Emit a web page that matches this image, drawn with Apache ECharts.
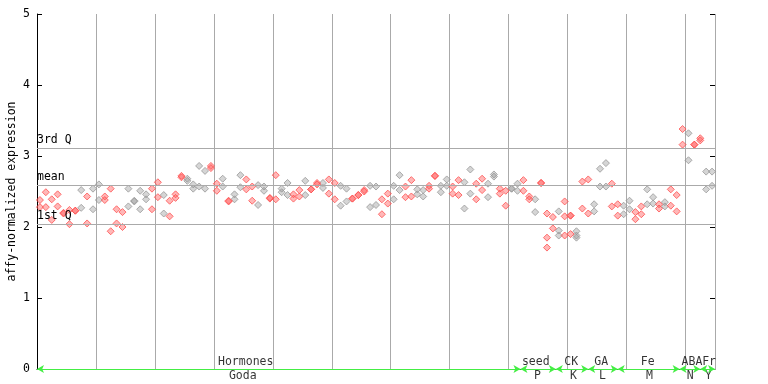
<!DOCTYPE html>
<html><head><meta charset="utf-8">
<script src="https://cdn.jsdelivr.net/npm/echarts@6/dist/echarts.min.js"></script>
<style>html,body{margin:0;padding:0;background:#fff}#c{width:768px;height:384px}</style>
</head><body><div id="c"></div>
<script>
// replicate values per sample column
var rep1 = [2.38,2.49,2.39,2.46,2.19,2.24,2.23,2.52,2.43,2.54, 2.60,2.43,2.54,2.25,2.21,2.54,2.37,2.51,2.46,2.54,
 2.63,2.45,2.37,2.46,2.72,2.68,2.60,2.86,2.79,2.86, 2.61,2.68,2.37,2.46,2.73,2.67,2.57,2.59,2.57,2.40,
 2.73,2.54,2.62,2.46,2.52,2.65,2.53,2.62,2.62,2.67, 2.62,2.58,2.54,2.40,2.45,2.52,2.58,2.57,2.39,2.47,
 2.58,2.73,2.57,2.66,2.53,2.52,2.58,2.72,2.58,2.67, 2.57,2.66,2.63,2.81,2.61,2.68,2.61,2.74,2.54,2.51,
 2.54,2.61,2.66,2.43,2.39,2.62,2.19,2.14,2.22,2.36, 2.16,1.94,2.64,2.67,2.32,2.82,2.90,2.61,2.32,2.30,
 2.37,2.21,2.29,2.53,2.42,2.32,2.35,2.53,2.45,3.38, 3.32,3.16,3.25,2.78,2.78];
var rep2 = [2.28,2.28,2.10,2.29,2.20,2.04,2.23,2.27,2.05,2.25, 2.38,2.38,1.94,2.05,2.00,2.29,2.36,2.25,2.39,2.25,
 2.42,2.19,2.15,2.41,2.70,2.65,2.54,2.57,2.54,2.83, 2.51,2.57,2.36,2.39,2.56,2.53,2.37,2.31,2.51,2.41,
 2.39,2.49,2.45,2.40,2.43,2.45,2.53,2.60,2.55,2.47, 2.39,2.30,2.36,2.40,2.45,2.50,2.28,2.31,2.18,2.33,
 2.39,2.52,2.42,2.43,2.46,2.43,2.54,2.72,2.49,2.58, 2.47,2.45,2.26,2.47,2.39,2.52,2.42,2.71,2.47,2.30,
 2.54,2.51,2.51,2.39,2.21,2.62,1.85,1.98,1.95,2.15, 2.16,1.88,2.26,2.19,2.22,2.57,2.57,2.29,2.16,2.18,
 2.25,2.11,2.18,2.32,2.33,2.26,2.29,2.30,2.22,3.16, 2.94,3.16,3.22,2.53,2.58];
var rep3Index = [86, 88, 89, 90, 91];
var rep3Value = [1.71, 1.88, 1.88, 1.90, 1.85];
// colour flag per column: R = red, G = gray
var colourFlags = "RRRRRRRGRGGRRRRGGGGRRGRRRGGGGRRGRGGRRGGRRGGRRGRRGRRGGRRRGGRRGGRRGGRRGGRRGGRRGGRRGGRRGRRRGRRGRRGGGRRGGRRGGRGRRRGRRGG";
// quartile reference lines
var refNames = ["3rd Q", "mean", "1st Q"];
var refValues = [3.108, 2.587, 2.042];
// group bands along the bottom (axis units)
var groupUpper = ["Hormones", "seed", "CK", "GA", "Fe", "ABA", "Fr"];
var groupLower = ["Goda", "P", "K", "L", "M", "N", "Y"];
var groupStart = [0, 82, 88, 93.5, 98.5, 109, 112.5];
var groupEnd = [82, 88, 93.5, 98.5, 109, 112.5, 115];
var upperLabelPos = [35.4, 84.6, 90.6, 95.7, 103.6, 111.1, 114.0];
var lowerLabelPos = [34.9, 84.9, 91.0, 95.9, 103.9, 110.8, 113.9];
var yTicks = [0, 1, 2, 3, 4, 5];

var redPts = [], grayPts = [];
function push(i, v) {
  if (v == null) return;
  (colourFlags[i] === 'G' ? grayPts : redPts).push([i + 0.5, v]);
}
for (var i = 0; i < rep1.length; i++) { push(i, rep1[i]); push(i, rep2[i]); }
for (var k = 0; k < rep3Index.length; k++) push(rep3Index[k], rep3Value[k]);

var FONT = 'DejaVu Sans Mono';
var chart = echarts.init(document.getElementById('c'));
var upperData = groupUpper.map(function (t, j) { return { value: [upperLabelPos[j], 0], name: t }; });
var lowerData = groupLower.map(function (t, j) { return { value: [lowerLabelPos[j], 0], name: t }; });
var arrowLines = groupStart.map(function (s, j) { return [{ coord: [s, 0] }, { coord: [groupEnd[j], 0] }]; });

chart.setOption({
  animation: false,
  grid: { left: 37, top: 14, width: 678, height: 355, containLabel: false, outerBoundsMode: 'none' },
  xAxis: {
    type: 'value', min: 0, max: 115, interval: 10,
    axisLine: { show: true, onZero: false, lineStyle: { color: '#000' } },
    axisTick: { show: false }, axisLabel: { show: false },
    splitLine: { show: true, lineStyle: { color: '#aaa', width: 1 } }
  },
  yAxis: [{
    type: 'value', min: 0, max: 5, interval: 1,
    name: 'affy-normalized expression', nameLocation: 'middle', nameGap: 25, nameMoveOverlap: false,
    nameTextStyle: { fontFamily: FONT, fontSize: 11.5, color: '#000', verticalAlign: 'middle' },
    axisLine: { show: true, lineStyle: { color: '#000' } },
    axisTick: { show: true, inside: true, length: 5, lineStyle: { color: '#000' } },
    axisLabel: { fontFamily: FONT, fontSize: 11.5, color: '#000', margin: 7 },
    splitLine: { show: false }
  }, {
    type: 'value', min: 0, max: 5, interval: 1, position: 'right',
    axisLine: { show: false },
    axisTick: { show: true, inside: true, length: 5, lineStyle: { color: '#000' } },
    axisLabel: { show: false }, splitLine: { show: false }
  }],
  series: [{
    type: 'scatter', data: grayPts, symbol: 'diamond', symbolSize: 7, silent: true,
    itemStyle: { color: 'rgba(150,150,150,0.5)', borderColor: '#999', borderWidth: 1 },
    markLine: {
      silent: true, symbol: 'none',
      lineStyle: { color: '#aaa', width: 1, type: 'solid' },
      label: { show: true, position: 'insideStartTop', distance: [0, 2], formatter: '{b}', fontFamily: FONT, fontSize: 11.5, color: '#000' },
      data: refValues.map(function (v, j) { return { yAxis: v, name: refNames[j] }; })
    }
  }, {
    type: 'scatter', data: redPts, symbol: 'diamond', symbolSize: 7, silent: true,
    itemStyle: { color: 'rgba(255,90,90,0.55)', borderColor: '#ff5050', borderWidth: 1 }
  }, {
    type: 'scatter', data: upperData, symbolSize: 0, silent: true,
    label: { show: true, formatter: '{b}', position: 'top', distance: 1, fontFamily: FONT, fontSize: 11.5, color: '#000' },
    markLine: {
      silent: true, symbol: ['arrow', 'arrow'], symbolSize: [6, 7],
      lineStyle: { color: '#44ee44', width: 1, type: 'solid' },
      label: { show: false }, data: arrowLines
    }
  }, {
    type: 'scatter', data: lowerData, symbolSize: 0, silent: true,
    label: { show: true, formatter: '{b}', position: 'bottom', distance: 1, fontFamily: FONT, fontSize: 11.5, color: '#000' }
  }]
});
</script></body></html>
